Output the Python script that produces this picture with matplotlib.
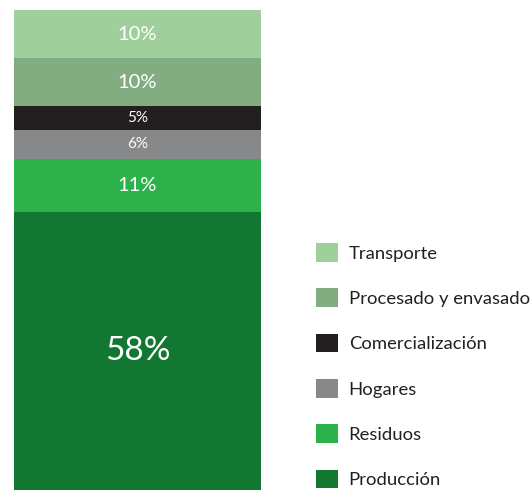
import matplotlib
matplotlib.use("Agg")
from matplotlib import pyplot as plt

plt.rcParams['font.family'] = ['Lato', 'DejaVu Sans']

# bottom to top
categories = ['Producción', 'Residuos', 'Hogares', 'Comercialización',
              'Procesado y envasado', 'Transporte']
values = [58, 11, 6, 5, 10, 10]
labels = ['58%', '11%', '6%', '5%', '10%', '10%']
colors = ['#127831', '#2db14a', '#87888a', '#231f20', '#82ad80', '#9fd09b']
label_sizes = [24, 14.5, 11, 11, 14.5, 14.5]

fig = plt.figure(figsize=(5.32, 4.9), dpi=100)
ax = fig.add_axes([14 / 532, 0, 247 / 532, 480 / 490])

bottom = 0
bars = []
for cat, v, lab, c, fs in zip(categories, values, labels, colors, label_sizes):
    b = ax.bar(0, v, width=1, bottom=bottom, color=c, label=cat, linewidth=0)
    bars.append(b)
    ax.text(0, bottom + v / 2, lab, ha='center', va='center',
            color='white', fontsize=fs)
    bottom += v

ax.set_xlim(-0.5, 0.5)
ax.set_ylim(0, 100)
ax.axis('off')

handles = bars[::-1]
names = categories[::-1]
fig.legend(handles, names, loc='upper left', bbox_to_anchor=(316 / 532, 1 - 243 / 490),
           frameon=False, fontsize=13.3, handlelength=1.17, handleheight=1.17,
           handletextpad=0.6, labelspacing=1.45, borderaxespad=0, borderpad=0,
           labelcolor='#231f20')

fig.savefig('out.png', dpi=100)
